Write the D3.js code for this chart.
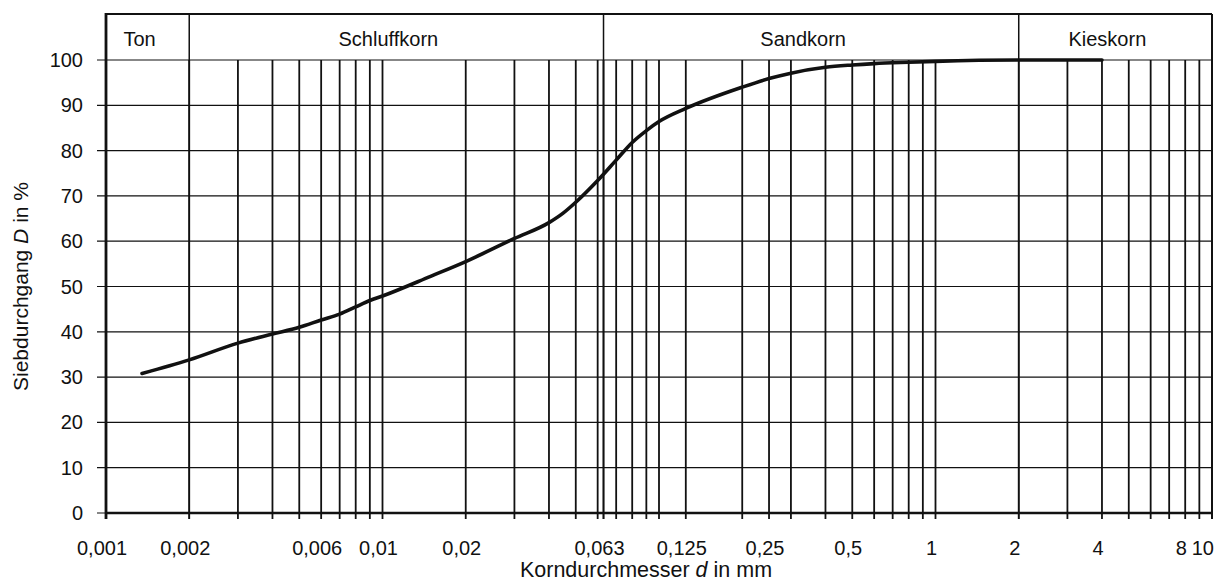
<!DOCTYPE html>
<html>
<head>
<meta charset="utf-8">
<script src="https://cdn.jsdelivr.net/npm/d3@7"></script>
<style>
  html, body { margin: 0; padding: 0; background: #fff; }
  svg { display: block; font-family: "Liberation Sans", Arial, sans-serif; }
</style>
</head>
<body>
<svg id="chart" width="1232" height="583"></svg>
<script>
// Grain-size distribution (Körnungslinie)
const grainSize = [0.00135, 0.002, 0.003, 0.004, 0.005, 0.006, 0.007, 0.008, 0.009, 0.01, 0.015, 0.02, 0.03, 0.04, 0.045, 0.05, 0.06, 0.07, 0.08, 0.09, 0.1, 0.125, 0.2, 0.25, 0.3, 0.4, 0.5, 0.6, 0.8, 1, 2, 4];
const passing   = [30.8, 33.8, 37.5, 39.5, 41.0, 42.6, 43.9, 45.5, 46.9, 47.9, 52.3, 55.5, 60.6, 64.1, 66.2, 68.6, 73.4, 77.9, 81.8, 84.4, 86.4, 89.3, 94.0, 95.9, 97.1, 98.4, 98.9, 99.2, 99.5, 99.7, 100, 100];

// Vertical grid positions (mm)
const gridSizes = [0.002, 0.003, 0.004, 0.005, 0.006, 0.007, 0.008, 0.009,
  0.01, 0.02, 0.03, 0.04, 0.05, 0.06, 0.063, 0.07, 0.08, 0.09,
  0.1, 0.125, 0.2, 0.25, 0.3, 0.4, 0.5, 0.6, 0.7, 0.8, 0.9,
  1, 2, 3, 4, 5, 6, 7, 8, 9];

// Labelled x ticks
const xTickValues = [0.001, 0.002, 0.006, 0.01, 0.02, 0.063, 0.125, 0.25, 0.5, 1, 2, 4, 8, 10];
const xTickLabels = ["0,001", "0,002", "0,006", "0,01", "0,02", "0,063", "0,125", "0,25", "0,5", "1", "2", "4", "8", "10"];

const yTickValues = [0, 10, 20, 30, 40, 50, 60, 70, 80, 90, 100];

// Soil fractions in the header band
const fractionNames = ["Ton", "Schluffkorn", "Sandkorn", "Kieskorn"];
const fractionBounds = [0.001, 0.002, 0.063, 2, 10];

const svg = d3.select("#chart");
const plotLeft = 106, plotRight = 1212, frameTop = 14, plotTop = 60, plotBottom = 513;

const x = d3.scaleLog().domain([0.001, 10]).range([plotLeft, plotRight]);
const y = d3.scaleLinear().domain([0, 100]).range([plotBottom, plotTop]);

// horizontal grid + y ticks
svg.append("g").selectAll("line").data(yTickValues).join("line")
  .attr("x1", plotLeft - 9).attr("x2", plotRight)
  .attr("y1", d => y(d)).attr("y2", d => y(d))
  .attr("stroke", "#111").attr("stroke-width", 1.2);

// vertical grid with ticks below the axis
svg.append("g").selectAll("line").data(gridSizes).join("line")
  .attr("x1", d => x(d)).attr("x2", d => x(d))
  .attr("y1", plotTop).attr("y2", plotBottom + 6)
  .attr("stroke", "#111").attr("stroke-width", 1.8);

// fraction boundaries run through the header band
svg.append("g").selectAll("line").data(fractionBounds.slice(1, -1)).join("line")
  .attr("x1", d => x(d)).attr("x2", d => x(d))
  .attr("y1", frameTop).attr("y2", plotBottom + 6)
  .attr("stroke", "#111").attr("stroke-width", 1.5);

// frame
svg.append("line").attr("x1", plotLeft).attr("x2", plotRight).attr("y1", frameTop).attr("y2", frameTop)
  .attr("stroke", "#111").attr("stroke-width", 2.2);
svg.append("line").attr("x1", plotRight).attr("x2", plotRight).attr("y1", frameTop).attr("y2", plotBottom + 6)
  .attr("stroke", "#111").attr("stroke-width", 2);
svg.append("line").attr("x1", plotLeft).attr("x2", plotLeft).attr("y1", frameTop - 1).attr("y2", plotBottom + 6)
  .attr("stroke", "#111").attr("stroke-width", 2.8);
svg.append("line").attr("x1", plotLeft).attr("x2", plotRight).attr("y1", plotBottom).attr("y2", plotBottom)
  .attr("stroke", "#111").attr("stroke-width", 2.5);

// header labels
svg.append("g").selectAll("text").data(fractionNames).join("text")
  .attr("x", (d, i) => (x(fractionBounds[i]) + x(fractionBounds[i + 1])) / 2 - 8)
  .attr("y", 46)
  .attr("text-anchor", "middle")
  .attr("font-size", 20)
  .attr("fill", "#111")
  .text(d => d);

// y tick labels
svg.append("g").selectAll("text").data(yTickValues).join("text")
  .attr("x", 83).attr("y", d => y(d) + 7)
  .attr("text-anchor", "end")
  .attr("font-size", 20)
  .attr("fill", "#111")
  .text(d => d);

// x tick labels
svg.append("g").selectAll("text").data(xTickValues).join("text")
  .attr("x", (d, i) => i === xTickValues.length - 1 ? x(d) + 2 : x(d) - 4)
  .attr("y", 555)
  .attr("text-anchor", (d, i) => i === xTickValues.length - 1 ? "end" : "middle")
  .attr("font-size", 20)
  .attr("fill", "#111")
  .text((d, i) => xTickLabels[i]);

// axis titles
const xTitle = svg.append("text")
  .attr("x", (plotLeft + plotRight) / 2 - 13).attr("y", 577)
  .attr("text-anchor", "middle").attr("font-size", 21.5).attr("fill", "#111");
xTitle.append("tspan").text("Korndurchmesser ");
xTitle.append("tspan").attr("font-style", "italic").text("d");
xTitle.append("tspan").text(" in mm");

const yTitle = svg.append("text")
  .attr("transform", `translate(28,${(plotTop + plotBottom) / 2}) rotate(-90)`)
  .attr("text-anchor", "middle").attr("font-size", 21).attr("fill", "#111");
yTitle.append("tspan").text("Siebdurchgang ");
yTitle.append("tspan").attr("font-style", "italic").text("D");
yTitle.append("tspan").text(" in %");

// grading curve
const line = d3.line()
  .x((d, i) => x(grainSize[i]))
  .y(d => y(d))
  .curve(d3.curveMonotoneX);

svg.append("path")
  .datum(passing)
  .attr("d", line)
  .attr("fill", "none")
  .attr("stroke", "#111")
  .attr("stroke-width", 3.6)
  .attr("stroke-linecap", "round");
</script>
</body>
</html>
